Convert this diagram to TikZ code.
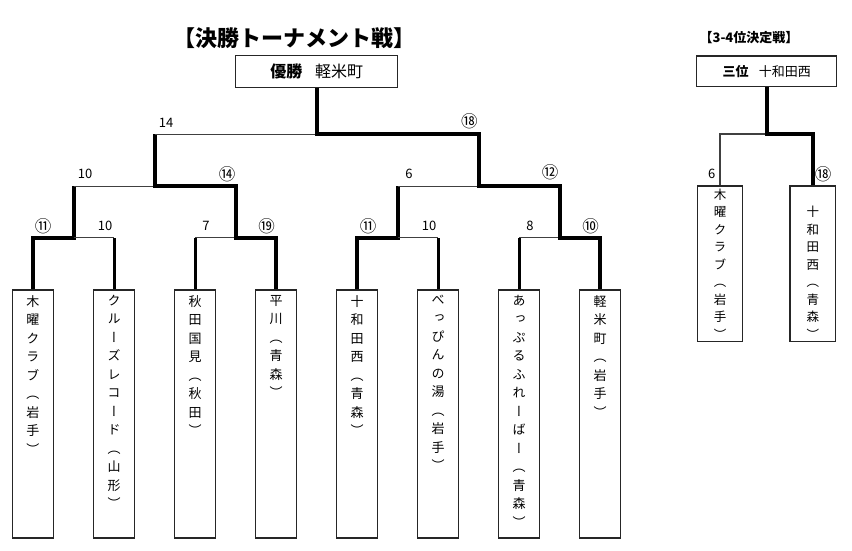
\documentclass[tikz,border=0pt]{standalone}
\usepackage{fontspec}
\setmainfont{Noto Sans CJK JP}
\newfontfamily\tatefont[RawFeature=+vert]{Noto Sans CJK JP}
\usetikzlibrary{positioning}

\tikzset{
  win/.style={line width=4pt},
  stem/.style={line width=3pt},
  lose/.style={line width=1pt,black!75},
  frame/.style={draw=black!85,line width=1.2pt,inner sep=0pt},
  teambox/.style={frame,minimum width=40.6pt,minimum height=248pt},
  thirdbox/.style={frame,minimum width=45.5pt,minimum height=155.7pt},
  tate/.style={inner sep=0pt,align=center,font=\tatefont\fontsize{13}{18.5}\selectfont},
  score/.style={inner sep=0pt,font=\fontsize{13}{13}\selectfont},
  circ/.style={inner sep=0pt,font=\fontsize{16.5}{16.5}\selectfont},
}

\begin{document}
\begin{tikzpicture}[x=1pt,y=-1pt]
  \useasboundingbox[fill=white] (0,0) rectangle (852,550);

  % titles
  \node[font=\fontsize{22}{22}\selectfont\bfseries] (title) at (294,38) {【決勝トーナメント戦】};
  \node[font=\fontsize{13}{13}\selectfont\bfseries] (title2) at (749,38) {【3-4位決定戦】};

  \node[frame,minimum width=162pt,minimum height=32pt] (champ) at (316.7,71.7)
    {\fontsize{16}{16}\selectfont\bfseries 優勝\hspace{0.8em}\mdseries 軽米町};
  \node[frame,minimum width=140pt,minimum height=30.7pt] (third) at (766.7,71.3)
    {\fontsize{13}{13}\selectfont\bfseries 三位\hspace{0.8em}\mdseries 十和田西};

  % teams
  \node[teambox] (t1) at (33,414) {};
  \node[teambox] (t2) at (114,414) {};
  \node[teambox] (t3) at (195,414) {};
  \node[teambox] (t4) at (276,414) {};
  \node[teambox] (t5) at (357,414) {};
  \node[teambox] (t6) at (438,414) {};
  \node[teambox] (t7) at (519,414) {};
  \node[teambox] (t8) at (600,414) {};
  \node[tate,below=5.5pt of t1.north] (n1) {木\\曜\\ク\\ラ\\ブ\\（\\岩\\手\\）};
  \node[tate,below=5.5pt of t2.north] (n2) {ク\\ル\\ー\\ズ\\レ\\コ\\ー\\ド\\（\\山\\形\\）};
  \node[tate,below=5.5pt of t3.north] (n3) {秋\\田\\国\\見\\（\\秋\\田\\）};
  \node[tate,below=5.5pt of t4.north] (n4) {平\\川\\（\\青\\森\\）};
  \node[tate,below=5.5pt of t5.north] (n5) {十\\和\\田\\西\\（\\青\\森\\）};
  \node[tate,below=5.5pt of t6.north] (n6) {べ\\っ\\ぴ\\ん\\の\\湯\\（\\岩\\手\\）};
  \node[tate,below=5.5pt of t7.north] (n7) {あ\\っ\\ぷ\\る\\ふ\\れ\\ー\\ば\\ー\\（\\青\\森\\）};
  \node[tate,below=5.5pt of t8.north] (n8) {軽\\米\\町\\（\\岩\\手\\）};

  \node[thirdbox] (s1) at (720,263.8) {};
  \node[thirdbox] (s2) at (812.8,263.8) {};
  \node[tate,font=\tatefont\fontsize{12.5}{17.5}\selectfont,below=3pt of s1.north] (m1) {木\\曜\\ク\\ラ\\ブ\\（\\岩\\手\\）};
  \node[tate,font=\tatefont\fontsize{12.5}{17.5}\selectfont,below=20.7pt of s2.north] (m2) {十\\和\\田\\西\\（\\青\\森\\）};

  % junctions
  \coordinate (a1) at (73.5,237.5);
  \coordinate (a2) at (235.5,237.5);
  \coordinate (a3) at (397.5,237.5);
  \coordinate (a4) at (559.5,237.5);
  \coordinate (b1) at (154.5,186);
  \coordinate (b2) at (478.5,186);
  \coordinate (c) at (316.7,134);
  \coordinate (d) at (766.7,134);

  % left half
  \draw[win] (t1.north) |- (a1) -- (a1 |- b1);
  \draw[lose] (a1) -- (a1 -| t2);
  \draw[stem] (t2.north) -- (t2.north |- a1);
  \draw[lose] (a1 |- b1) -- (b1);
  \draw[stem] (t3.north) -- (t3.north |- a2);
  \draw[lose] (t3.north |- a2) -- (a2);
  \draw[win] (t4.north) |- (a2) -- (a2 |- b1) -- (b1) -- (b1 |- c);
  \draw[lose] (b1 |- c) -- (c);

  % right half
  \draw[win] (t5.north) |- (a3) -- (a3 |- b2);
  \draw[lose] (a3) -- (a3 -| t6);
  \draw[stem] (t6.north) -- (t6.north |- a3);
  \draw[lose] (a3 |- b2) -- (b2);
  \draw[stem] (t7.north) -- (t7.north |- a4);
  \draw[lose] (t7.north |- a4) -- (a4);
  \draw[win] (t8.north) |- (a4) -- (a4 |- b2) -- (b2) -- (b2 |- c) -- (c) -- (champ.south);

  % 3rd place
  \draw[lose,line width=1.5pt] (s1.north) |- (d);
  \draw[win] (s2.north) |- (d) -- (third.south);

  % scores
  \node[circ] (r11) at (43,226) {⑪};
  \node[score] (r12) at (105,226) {10};
  \node[score] (r13) at (206,226) {7};
  \node[circ] (r14) at (266.7,226) {⑲};
  \node[circ] (r15) at (368,226) {⑪};
  \node[score] (r16) at (429,226) {10};
  \node[score] (r17) at (530,226) {8};
  \node[circ] (r18) at (590.7,226) {⑩};
  \node[score] (r21) at (85,174) {10};
  \node[circ] (r22) at (227,174) {⑭};
  \node[score] (r23) at (409,174) {6};
  \node[circ] (r24) at (550,172.5) {⑫};
  \node[score] (r31) at (166,122.7) {14};
  \node[circ] (r32) at (469.3,121.7) {⑱};
  \node[score] (q1) at (711.7,174) {6};
  \node[circ] (q2) at (823,174) {⑱};
\end{tikzpicture}
\end{document}
